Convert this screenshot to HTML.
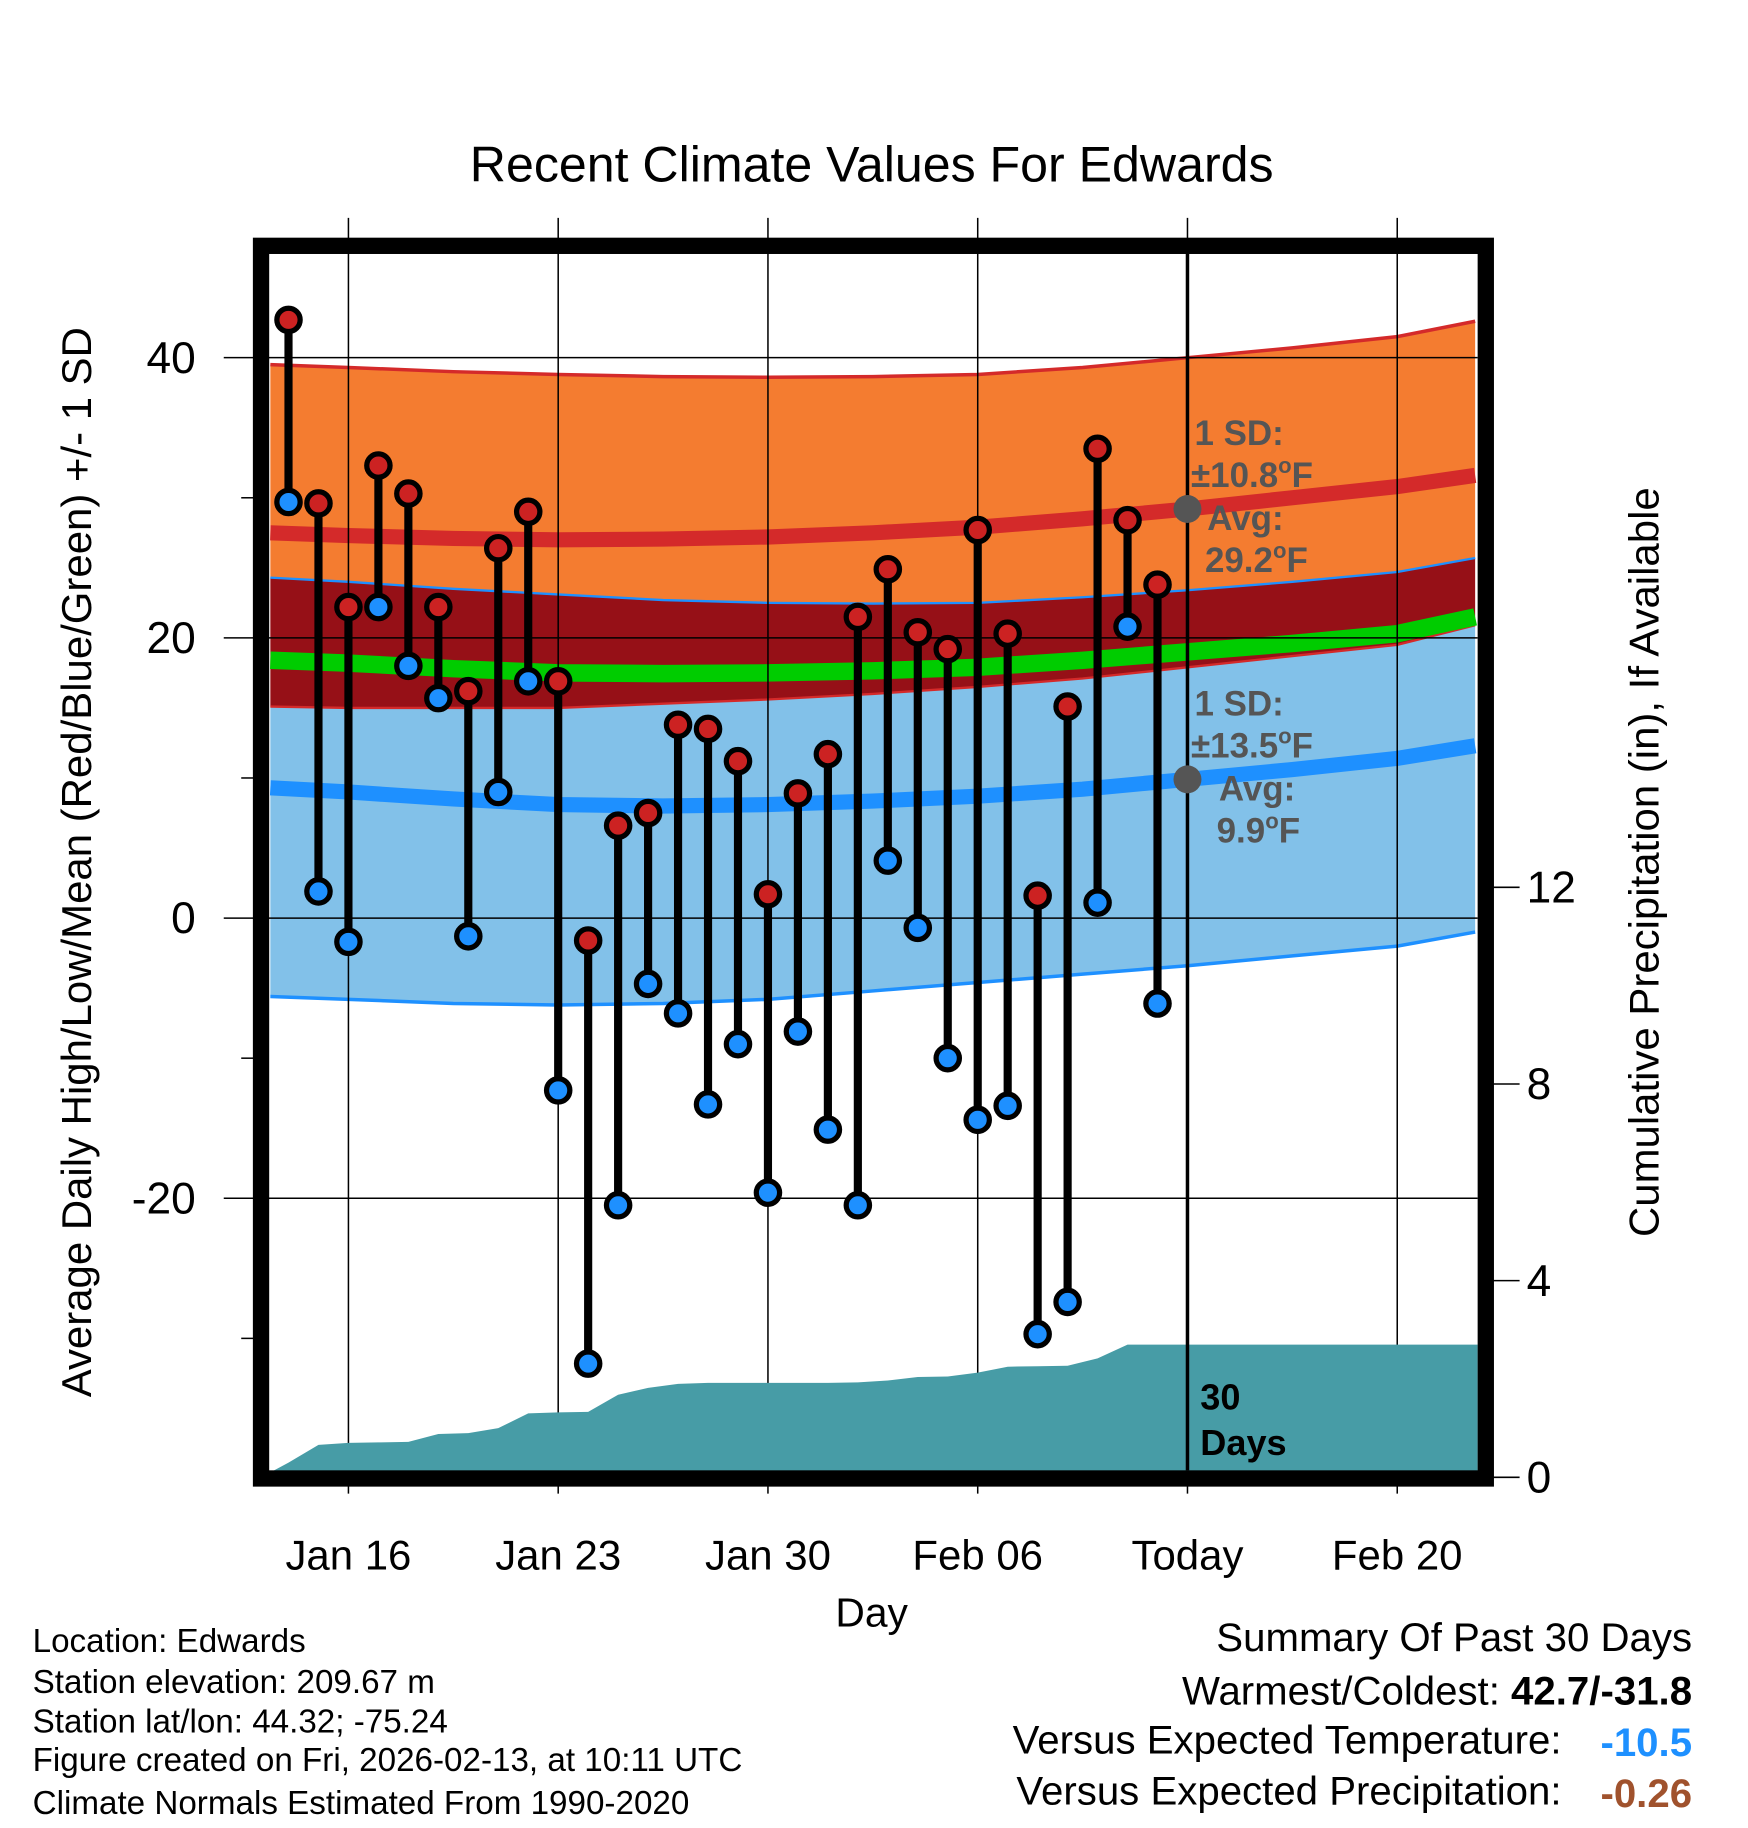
<!DOCTYPE html>
<html><head><meta charset="utf-8"><style>
html,body{margin:0;padding:0;background:#fff}
svg{display:block;font-family:"Liberation Sans",sans-serif}
</style></head><body>
<svg id="chart" width="1748" height="1828" viewBox="0 0 1500 1569" preserveAspectRatio="none" xmlns="http://www.w3.org/2000/svg">
<text x="748" y="156" font-size="43" text-anchor="middle">Recent Climate Values For Edwards</text>
<g id="bands"></g><g id="grid"></g><g id="precip"></g><g id="marks"></g>
<g font-size="30" font-weight="bold" fill="#555">
<text x="1025" y="382">1 SD:</text><text x="1022" y="418">±10.8<tspan font-size="19" dy="-12">o</tspan><tspan dy="12">F</tspan></text>
<text x="1036" y="455">Avg:</text><text x="1034" y="491">29.2<tspan font-size="19" dy="-12">o</tspan><tspan dy="12">F</tspan></text>
<text x="1025" y="614">1 SD:</text><text x="1022" y="650">±13.5<tspan font-size="19" dy="-12">o</tspan><tspan dy="12">F</tspan></text>
<text x="1046" y="687">Avg:</text><text x="1044" y="723">9.9<tspan font-size="19" dy="-12">o</tspan><tspan dy="12">F</tspan></text>
</g>
<text font-size="31" font-weight="bold" x="1030" y="1210">30</text>
<text font-size="31" font-weight="bold" x="1030" y="1249">Days</text>
<rect x="224" y="211" width="1051" height="1058" fill="none" stroke="#000" stroke-width="14"/>
<text font-size="36" text-anchor="middle" transform="translate(78,740) rotate(-90)">Average Daily High/Low/Mean (Red/Blue/Green) +/- 1 SD</text>
<text font-size="36" text-anchor="middle" transform="translate(1423,740) rotate(-90)">Cumulative Precipitation (in), If Available</text>
<text font-size="35" x="748" y="1396" text-anchor="middle">Day</text>
<g font-size="28.5">
<text x="28" y="1418">Location: Edwards</text><text x="28" y="1453">Station elevation: 209.67 m</text>
<text x="28" y="1487">Station lat/lon: 44.32; -75.24</text><text x="28" y="1520">Figure created on Fri, 2026-02-13, at 10:11 UTC</text>
<text x="28" y="1557">Climate Normals Estimated From 1990-2020</text></g>
<g font-size="34.5" text-anchor="end">
<text x="1452" y="1417">Summary Of Past 30 Days</text>
<text x="1452" y="1463">Warmest/Coldest: <tspan font-weight="bold">42.7/-31.8</tspan></text>
<text x="1340" y="1505">Versus Expected Temperature:</text><text x="1452" y="1507" fill="#1e90ff" font-weight="bold">-10.5</text>
<text x="1340" y="1549">Versus Expected Precipitation:</text><text x="1452" y="1551" fill="#a0522d" font-weight="bold">-0.26</text>
</g>
</svg>
<script>
const days=[14,15,16,17,18,19,20,21,22,23,24,25,26,27,28,29,30,31,32,33,34,35,36,37,38,39,40,41,42,43];
const highs=[42.7,29.6,22.2,32.3,30.3,22.2,16.2,26.4,29.0,16.9,-1.6,6.6,7.5,13.8,13.5,11.2,1.7,8.9,11.7,21.5,24.9,20.4,19.2,27.7,20.3,1.6,15.1,33.5,28.4,23.8];
const lows=[29.7,1.9,-1.7,22.2,18.0,15.7,-1.3,9.0,16.9,-12.3,-31.8,-20.5,-4.7,-6.8,-13.3,-9.0,-19.6,-8.1,-15.1,-20.5,4.1,-0.7,-10.0,-14.4,-13.4,-29.7,-27.4,1.1,20.8,-6.1];
const precip=[0.3,0.66,0.7,0.71,0.72,0.88,0.9,1.0,1.3,1.32,1.33,1.68,1.82,1.9,1.92,1.92,1.92,1.92,1.92,1.93,1.97,2.04,2.05,2.13,2.25,2.26,2.27,2.42,2.7,2.7];
const normDays=[13.35,16,19.5,23,26.5,30,33.5,37,40.5,44,47.5,51,53.6];
const hiUp=[39.5,39.3,39.0,38.8,38.65,38.6,38.65,38.8,39.3,40.0,40.7,41.5,42.6];
const hiMean=[27.5,27.3,27.1,27.0,27.05,27.2,27.5,27.9,28.5,29.2,30.0,30.8,31.6];
const hiDn=[24.3,24.0,23.5,23.1,22.7,22.5,22.45,22.5,22.9,23.4,24.0,24.7,25.7];
const mean=[18.4,18.2,17.8,17.5,17.45,17.5,17.65,17.9,18.4,19.0,19.6,20.3,21.5];
const loUp=[15.1,15.0,15.0,15.0,15.3,15.6,16.0,16.5,17.1,17.9,18.7,19.5,20.9];
const loMean=[9.3,9.0,8.5,8.1,8.0,8.1,8.35,8.7,9.2,9.9,10.6,11.4,12.3];
const loDn=[-5.6,-5.8,-6.1,-6.2,-6.1,-5.8,-5.2,-4.6,-4.0,-3.4,-2.7,-2.0,-1.0];
const tempTicks=[40,20,0,-20];
const precipTicks=[0,4,8,12];
const xTicks=[16,23,30,37,44,51];
const xLabels=["Jan 16","Jan 23","Jan 30","Feb 06","Today","Feb 20"];
const NS="http://www.w3.org/2000/svg";
const X=d=>299+(d-16)*180/7, Y=v=>788-v*12.025, P=p=>1268-p*42.2;
const X0=232,X1=1268;
function el(t,a,p){const e=document.createElementNS(NS,t);for(const k in a)e.setAttribute(k,a[k]);p.appendChild(e);return e;}
const bands=document.getElementById('bands'),grid=document.getElementById('grid'),pr=document.getElementById('precip'),marks=document.getElementById('marks');
const line=arr=>normDays.map((d,i)=>Math.max(X0,Math.min(X1,X(d)))+','+Y(arr[i])).join(' L');
const area=(a,b)=>'M'+line(a)+' L'+normDays.map((d,i)=>[Math.max(X0,Math.min(X1,X(d))),Y(b[i])]).reverse().map(p=>p.join(',')).join(' L')+'Z';
let e;
e=el('path',{d:area(hiUp,hiDn),fill:'#f47c30'},bands);

e=el('path',{d:area(hiDn,loUp),fill:'#961017'},bands);

e=el('path',{d:area(loUp,loDn),fill:'#82c1e9'},bands);

[[hiUp,'#d42a2a',3,'high-upper-line'],[hiDn,'#1e90ff',2,'high-lower-line'],[loUp,'#d42a2a',2,'low-upper-line'],[loDn,'#1e90ff',3,'low-lower-line'],[hiMean,'#d42a2a',13,'high-mean-line'],[mean,'#00cc00',15,'mean-line'],[loMean,'#1e90ff',13,'low-mean-line']].forEach(([a,c,w,n])=>{
 e=el('path',{d:'M'+line(a),fill:'none',stroke:c,'stroke-width':w},bands);
 
});
tempTicks.forEach(v=>{
 e=el('line',{x1:192,x2:1268,y1:Y(v),y2:Y(v),stroke:'#000','stroke-width':1.3},grid);
 
 e=el('text',{x:168,y:Y(v)+13,'font-size':38,'text-anchor':'end'},grid);e.textContent=v;
 
});
[30,10,-10,-30].forEach(v=>{e=el('line',{x1:207,x2:218,y1:Y(v),y2:Y(v),stroke:'#000','stroke-width':1.3},grid);
 });
precipTicks.forEach(v=>{
 e=el('line',{x1:1276,x2:1304,y1:P(v),y2:P(v),stroke:'#000','stroke-width':1.3},grid);
 
 e=el('text',{x:1310,y:P(v)+13,'font-size':38},grid);e.textContent=v;
 
});
xTicks.forEach((d,i)=>{
 e=el('line',{x1:X(d),x2:X(d),y1:187,y2:1282,stroke:'#000','stroke-width':1.3},grid);
 
 e=el('text',{x:X(d),y:1347,'font-size':36,'text-anchor':'middle'},grid);e.textContent=xLabels[i];
 
});
let pd='M'+X0+','+P(0.1);
days.forEach((d,i)=>pd+=' L'+X(d)+','+P(precip[i]));
pd+=' L'+X1+','+P(precip[precip.length-1])+' L'+X1+','+P(0)+' L'+X0+','+P(0)+'Z';
e=el('path',{d:pd,fill:'#479ca6'},pr);

e=el('line',{x1:X(44),x2:X(44),y1:218,y2:1262,stroke:'#000','stroke-width':3},pr);

[[29.2,'high-avg-dot'],[9.9,'low-avg-dot']].forEach(([v,n])=>{
 e=el('circle',{cx:X(44),cy:Y(v),r:12,fill:'#555'},pr);
 
});
days.forEach((d,i)=>{
 e=el('line',{x1:X(d),x2:X(d),y1:Y(highs[i]),y2:Y(lows[i]),stroke:'#000','stroke-width':7},marks);
 
});
days.forEach((d,i)=>{
 e=el('circle',{cx:X(d),cy:Y(highs[i]),r:10,fill:'#cc2222',stroke:'#000','stroke-width':4.5},marks);
 
 e=el('circle',{cx:X(d),cy:Y(lows[i]),r:10,fill:'#1e90ff',stroke:'#000','stroke-width':4.5},marks);
 
});
</script>
</body></html>
